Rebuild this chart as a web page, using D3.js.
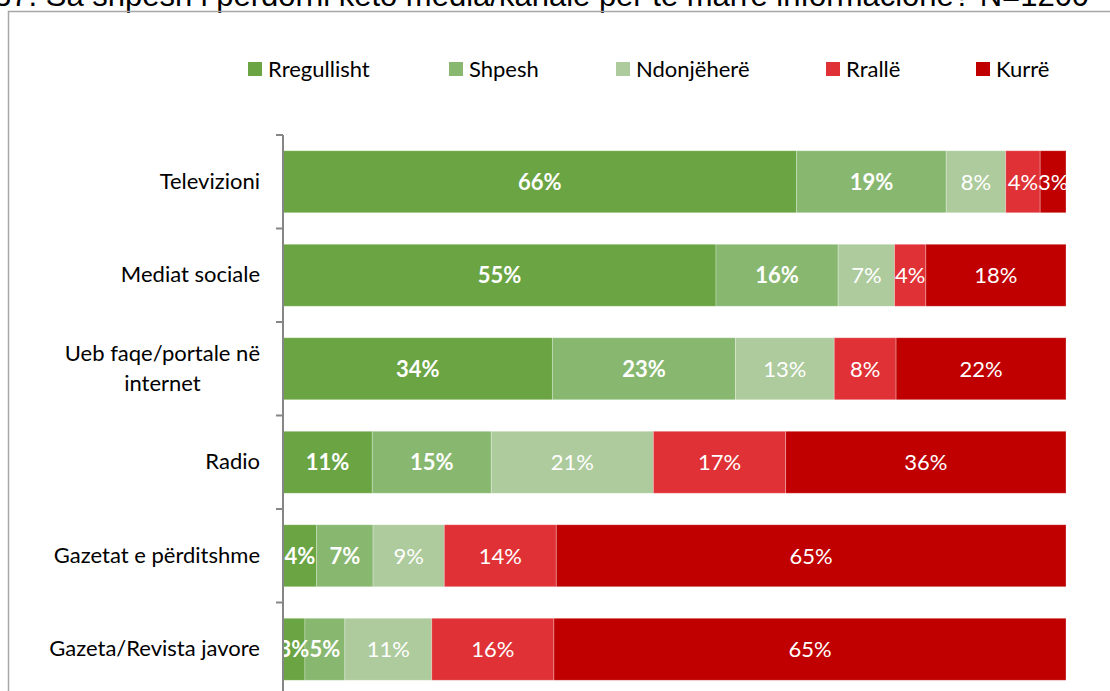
<!DOCTYPE html>
<html>
<head>
<meta charset="utf-8">
<script src="https://cdn.jsdelivr.net/npm/d3@7"></script>
<style>
  body { margin: 0; background: #fff; overflow: hidden; }
  svg { display: block; font-family: Lato, "Open Sans", sans-serif; }
</style>
</head>
<body>
<div id="chart"></div>
<script>
// Chart data
const title = '37. Sa shpesh i përdorni këto media/kanale për të marrë informacione? N=1200'
const categories = ['Televizioni', 'Mediat sociale', 'Ueb faqe/portale në internet', 'Radio', 'Gazetat e përditshme', 'Gazeta/Revista javore']
const seriesNames = ['Rregullisht', 'Shpesh', 'Ndonjëherë', 'Rrallë', 'Kurrë']
const rregullisht = [65.6, 55.3, 34.4, 11.4, 4.3, 2.8]
const shpesh = [19.1, 15.6, 23.4, 15.2, 7.2, 5.1]
const ndonjehere = [7.6, 7.2, 12.6, 20.7, 9.1, 11.1]
const rralle = [4.4, 4.0, 7.9, 16.9, 14.3, 15.6]
const kurre = [3.3, 17.9, 21.7, 35.8, 65.1, 65.4]
const colors = ['#6aa443', '#88b870', '#adcb9d', '#e03236', '#c00000']
const boldSeries = ['Rregullisht', 'Shpesh']

var width = 1110
var height = 691

// build rows for stacking
const allValues = [rregullisht, shpesh, ndonjehere, rralle, kurre]
const rows = categories.map((c, i) => {
  const row = { category: c }
  seriesNames.forEach((s, j) => row[s] = allValues[j][i])
  return row
})
const stacked = d3.stack().keys(seriesNames)(rows)

const svg = d3.select('#chart')
  .append('svg')
  .attr('width', width)
  .attr('height', height)

// title, cut off at top like the original
svg.append('text')
  .attr('x', -6)
  .attr('y', 6)
  .attr('font-family', 'Liberation Sans, Arial, sans-serif')
  .attr('font-size', 31)
  .attr('fill', '#000')
  .text(title)

// frame
svg.append('rect')
  .attr('x', 8.5)
  .attr('y', 11.5)
  .attr('width', 1300)
  .attr('height', 1000)
  .attr('fill', 'none')
  .attr('stroke', '#a6a6a6')
  .attr('stroke-width', 1.5)

// scales
const xScale = d3.scaleLinear()
  .domain([0, 100])
  .range([283, 1066])

const yScale = d3.scaleBand()
  .domain(categories)
  .range([135, 135 + 6 * 93.5])
  .paddingInner(0.337)
  .paddingOuter(0.337 / 2)

const color = d3.scaleOrdinal().domain(seriesNames).range(colors)

// bars
const layers = svg.append('g')
  .selectAll('g')
  .data(stacked)
  .enter()
  .append('g')
  .attr('fill', (d) => color(d.key))

layers.selectAll('rect')
  .data((d) => d)
  .enter()
  .append('rect')
  .attr('x', (d) => xScale(d[0]))
  .attr('y', (d) => yScale(d.data.category))
  .attr('width', (d) => xScale(d[1]) - xScale(d[0]))
  .attr('height', yScale.bandwidth())
  .attr('stroke', 'rgba(255,255,255,0.35)')
  .attr('stroke-width', 0.8)

// labels in bars
const fmt = (v) => Math.round(v) + '%'
stacked.forEach((layer) => {
  svg.append('g')
    .selectAll('text')
    .data(layer)
    .enter()
    .append('text')
    .attr('x', (d) => (xScale(d[0]) + xScale(d[1])) / 2)
    .attr('y', (d) => yScale(d.data.category) + yScale.bandwidth() / 2)
    .attr('dy', '0.36em')
    .attr('text-anchor', 'middle')
    .attr('font-size', 22)
    .attr('font-weight', boldSeries.includes(layer.key) ? 'bold' : 'normal')
    .attr('fill', '#fff')
    .text((d) => fmt(d[1] - d[0]))
})

// y axis with category labels
const yAxis = d3.axisLeft(yScale).tickSize(0).tickPadding(23)
const yG = svg.append('g')
  .attr('transform', `translate(${xScale(0)}, 0)`)
  .call(yAxis)

yG.select('.domain')
  .attr('stroke', '#868686')
  .attr('stroke-width', 2)
  .attr('d', `M0,${yScale.range()[0]}V${yScale.range()[1]}`)

yG.selectAll('.tick text')
  .attr('font-family', 'Lato, "Open Sans", sans-serif')
  .attr('font-size', 22)
  .attr('fill', '#000')
  .each(function (d) {
    // wrap long labels onto two centred lines
    const t = d3.select(this)
    if (this.getComputedTextLength() <= 225) return
    const words = d.split(' ')
    const lines = []
    let line = []
    words.forEach((w) => {
      line.push(w)
      t.text(line.join(' '))
      if (this.getComputedTextLength() > 225 && line.length > 1) {
        line.pop()
        lines.push(line.join(' '))
        line = [w]
      }
    })
    lines.push(line.join(' '))
    t.text(null)
    const widths = lines.map((l) => { t.text(l); return this.getComputedTextLength() })
    const maxW = d3.max(widths)
    t.text(null)
    t.attr('text-anchor', 'middle').attr('dy', null)
    lines.forEach((l, i) => {
      t.append('tspan')
        .attr('x', -23 - maxW / 2)
        .attr('y', (i - (lines.length - 1) / 2) * 30)
        .attr('dy', '0.32em')
        .text(l)
    })
  })

// tick marks between categories
const step = yScale.step()
const tickYs = d3.range(categories.length + 1).map((i) => yScale.range()[0] + i * step)
svg.append('g')
  .selectAll('line')
  .data(tickYs)
  .enter()
  .append('line')
  .attr('x1', xScale(0) - 7)
  .attr('x2', xScale(0))
  .attr('y1', (d) => d)
  .attr('y2', (d) => d)
  .attr('stroke', '#868686')
  .attr('stroke-width', 2)

// legend
const legendX = [248, 449, 616, 826, 976]
const legend = svg.append('g')
  .selectAll('g')
  .data(seriesNames)
  .enter()
  .append('g')
  .attr('transform', (d, i) => `translate(${legendX[i]}, 62)`)

legend.append('rect')
  .attr('width', 14)
  .attr('height', 14)
  .attr('fill', (d) => color(d))

legend.append('text')
  .attr('x', 20)
  .attr('y', 7)
  .attr('dy', '0.36em')
  .attr('font-size', 22)
  .attr('fill', '#000')
  .text((d) => d)
</script>
</body>
</html>
